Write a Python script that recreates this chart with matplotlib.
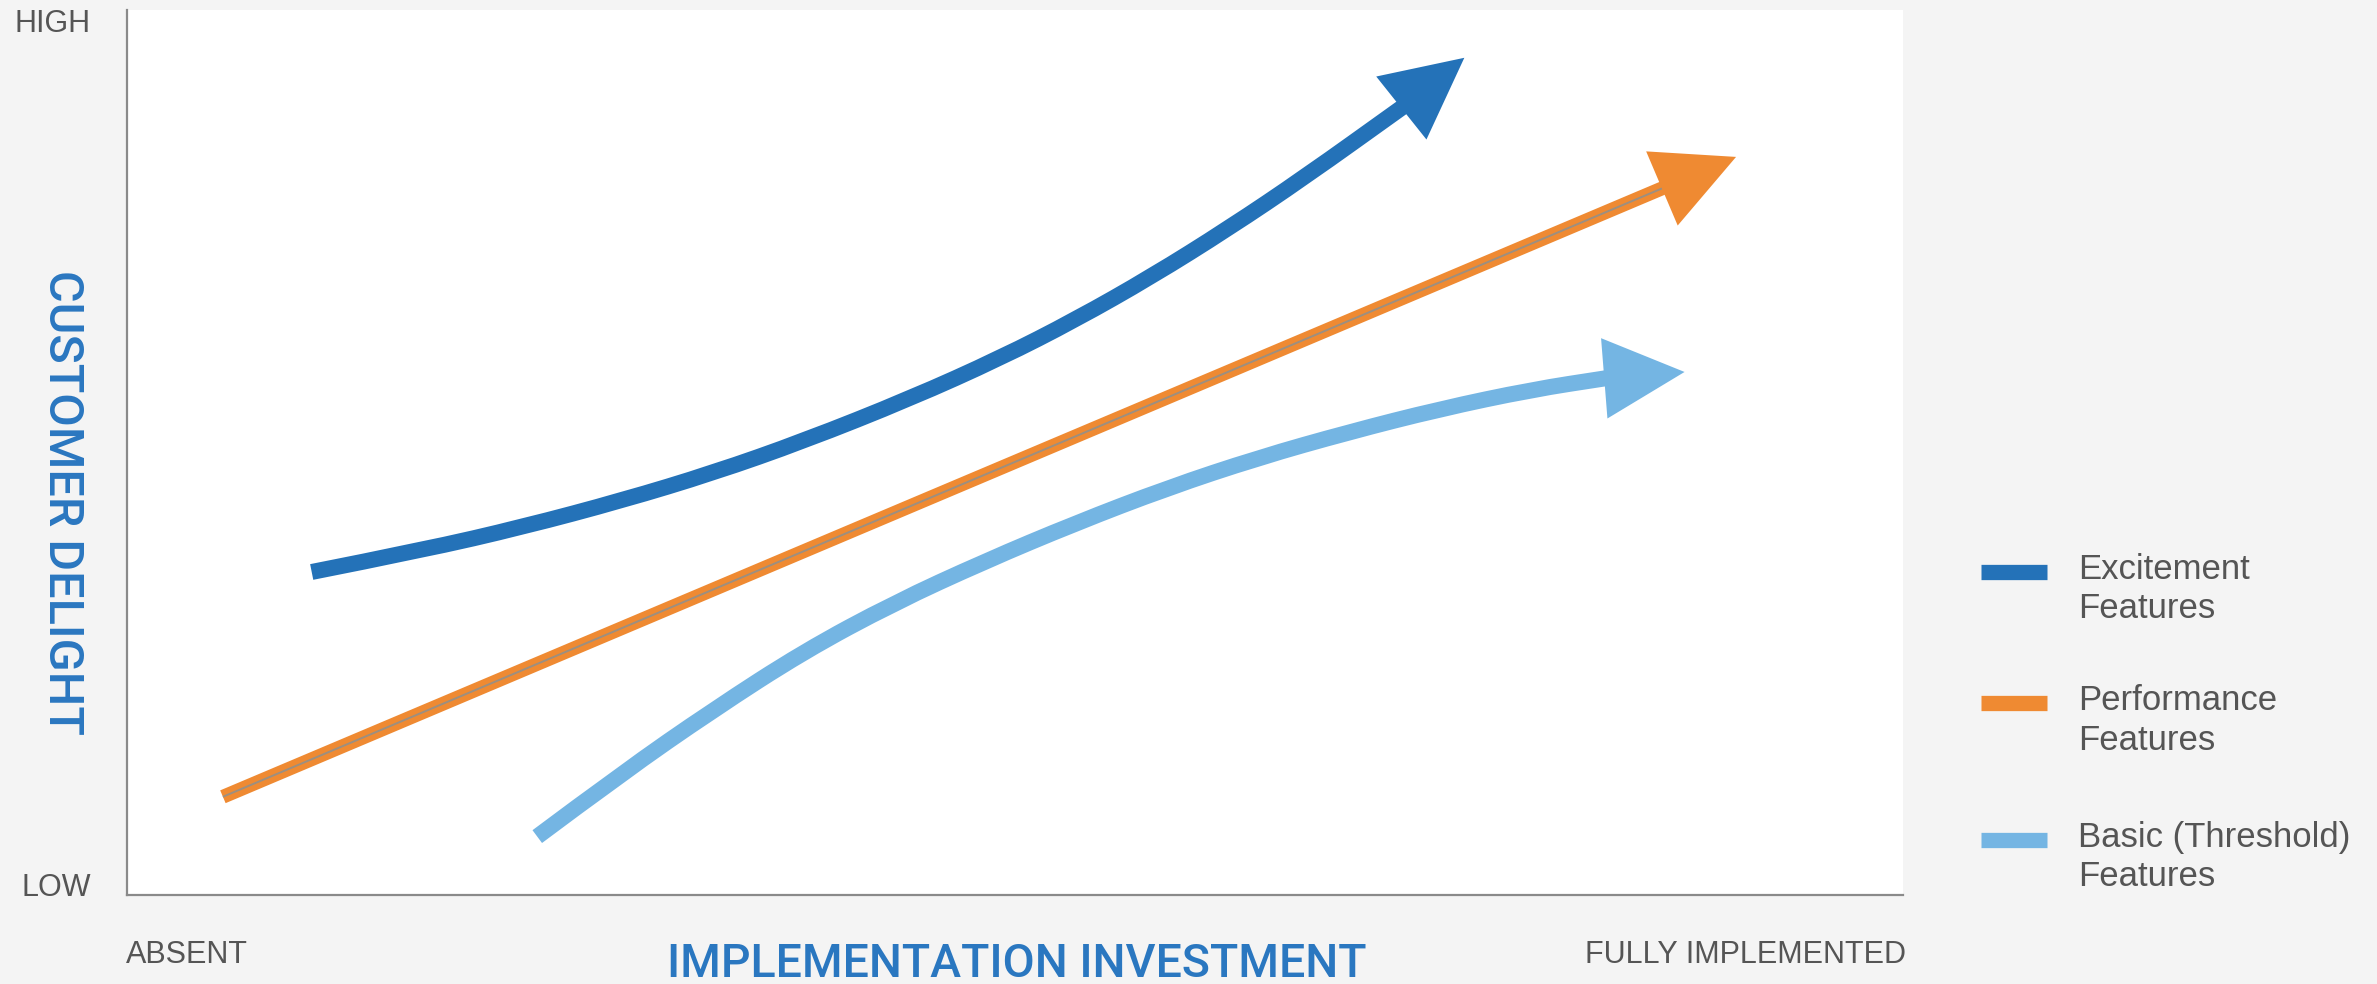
import matplotlib
matplotlib.use("Agg")
import matplotlib.pyplot as plt
from matplotlib.lines import Line2D
from matplotlib.path import Path
from matplotlib.patches import PathPatch

plt.rcParams['font.family'] = ['Liberation Sans', 'DejaVu Sans']

# curve points, x = implementation (0-100), y = delight (0-100)
excite_x = [10.4, 16.7, 22.3, 27.9, 33.0, 38.1, 44.1, 49.2, 53.4, 57.7, 62.0, 66.3, 71.8]
excite_y = [36.5, 39.0, 41.6, 44.6, 47.7, 51.3, 56.1, 60.7, 65.0, 69.9, 75.3, 81.1, 89.0]
excite_tip = (75.3, 94.6)

perf_x = [5.4, 86.5]
perf_y = [11.1, 79.9]
perf_tip = (90.6, 83.4)

basic_x = [23.1, 27.9, 33.0, 38.1, 43.2, 48.3, 53.4, 58.6, 63.7, 68.8, 73.9, 79.1, 83.3]
basic_y = [6.6, 13.8, 20.9, 27.5, 33.0, 37.7, 42.0, 46.0, 49.4, 52.3, 54.9, 57.1, 58.4]
basic_tip = (87.7, 59.1)

labels = ['Excitement\nFeatures', 'Performance\nFeatures', 'Basic (Threshold)\nFeatures']
colors = ['#2472b8', '#ef8a32', '#74b5e3']

bg = '#f4f4f4'
txt = '#555555'
blue_txt = '#2a77c0'


def smooth_path(xs, ys):
    # quadratic bezier through the midpoints, so the line has no corners
    pts = list(zip(xs, ys))
    if len(pts) < 3:
        return Path(pts, [Path.MOVETO, Path.LINETO])
    verts = [pts[0]]
    codes = [Path.MOVETO]
    for i in range(1, len(pts) - 1):
        mid = ((pts[i][0] + pts[i + 1][0]) / 2, (pts[i][1] + pts[i + 1][1]) / 2)
        verts += [pts[i], mid]
        codes += [Path.CURVE3, Path.CURVE3]
    verts.append(pts[-1])
    codes.append(Path.LINETO)
    return Path(verts, codes)


fig = plt.figure(figsize=(23.77, 9.84), dpi=100, facecolor=bg)
ax = fig.add_axes([127 / 2377, 89 / 984, 1776 / 2377, 885 / 984])
ax.set_facecolor('white')
ax.set_xlim(0, 100)
ax.set_ylim(0, 100)
ax.set_xticks([])
ax.set_yticks([])
for s in ['top', 'right']:
    ax.spines[s].set_visible(False)
for s in ['left', 'bottom']:
    ax.spines[s].set_color('#8a8a8a')
    ax.spines[s].set_linewidth(1.6)

series = [
    (basic_x, basic_y, basic_tip, colors[2], 11.5),
    (perf_x, perf_y, perf_tip, colors[1], 10),
    (excite_x, excite_y, excite_tip, colors[0], 11.5),
]
for xs, ys, tip, c, lw in series:
    ax.add_patch(PathPatch(smooth_path(xs, ys), fill=False, edgecolor=c, lw=lw,
                           capstyle='butt', joinstyle='round'))
    ax.annotate('', xy=tip, xytext=(xs[-1], ys[-1]),
                arrowprops=dict(arrowstyle='-|>,head_length=0.58,head_width=0.29',
                                mutation_scale=100, color=c, lw=0,
                                shrinkA=0, shrinkB=0))

# thin grey core on the orange line
ax.plot(perf_x, perf_y, color='#9c8f80', lw=1.4, solid_capstyle='butt')

# axis end labels
fig.text(91 / 2377, 1 - 24 / 984, 'HIGH', ha='right', va='center', fontsize=22, color=txt)
fig.text(91 / 2377, 1 - 888 / 984, 'LOW', ha='right', va='center', fontsize=22, color=txt)
fig.text(126 / 2377, 1 - 955 / 984, 'ABSENT', ha='left', va='center', fontsize=22, color=txt)
fig.text(1906 / 2377, 1 - 955 / 984, 'FULLY IMPLEMENTED', ha='right', va='center', fontsize=22, color=txt)

fig.text(1017 / 2377, 1 - 964 / 984, 'IMPLEMENTATION INVESTMENT', ha='center', va='center',
         fontsize=33.5, color=blue_txt, family=['Roboto', 'DejaVu Sans'], weight='medium')
fig.text(62 / 2377, 1 - 502 / 984, 'CUSTOMER DELIGHT', ha='center', va='center',
         fontsize=35, color=blue_txt, rotation=-90, family=['Roboto', 'DejaVu Sans'],
         weight='medium')

# legend
leg_y = [572, 703, 840]
for lab, c, y in zip(labels, colors, leg_y):
    fig.add_artist(Line2D([1981 / 2377, 2047 / 2377], [1 - y / 984, 1 - y / 984],
                          color=c, lw=11, solid_capstyle='butt'))
    fig.text(2078 / 2377, 1 - (y - 19) / 984, lab, ha='left', va='top',
             fontsize=25, color=txt, linespacing=1.25)

fig.savefig('out.png', dpi=100, facecolor=bg)
